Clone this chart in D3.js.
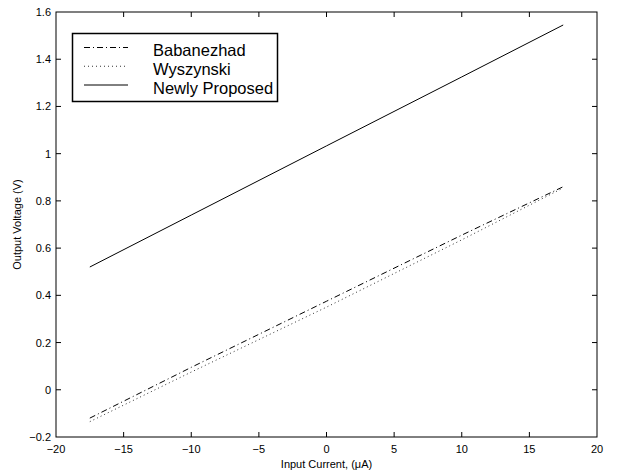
<!DOCTYPE html>
<html><head><meta charset="utf-8">
<script src="https://cdn.jsdelivr.net/npm/d3@7"></script>
<style>body{margin:0;background:#fff}svg{display:block}text{font-family:"Liberation Sans",Arial,sans-serif;fill:#000}</style>
</head><body><svg id="c" width="620" height="474"></svg>
<script>
const xTicks = [-20,-15,-10,-5,0,5,10,15,20];
const yTicks = [-0.2,0,0.2,0.4,0.6,0.8,1,1.2,1.4,1.6];
const current = [-17.5,-10,0,10,17.5];
const babanezhad = [-0.12,0.095,0.375,0.655,0.86];
const wyszynski = [-0.135,0.075,0.35,0.635,0.855];
const proposed = [0.52,0.74,1.033,1.325,1.545];
const seriesNames = ["Babanezhad","Wyszynski","Newly Proposed"];
const dashes = ["6,3,1,3","1,3",null];
const colors = ["#000","#333","#000"];

const svg = d3.select("#c");
const L=56,R=597,T=12,B=437;
const x = d3.scaleLinear().domain([-20,20]).range([L,R]);
const y = d3.scaleLinear().domain([-0.2,1.6]).range([B,T]);
const fmt = d => d===0?"0":String(d).replace("-","\u2212");

// ticks inside on all sides
const g = svg.append("g");
xTicks.forEach(t=>{
  if(t===-20||t===20) return;
  g.append("line").attr("x1",x(t)).attr("x2",x(t)).attr("y1",B).attr("y2",B-5).attr("stroke","#000");
  g.append("line").attr("x1",x(t)).attr("x2",x(t)).attr("y1",T).attr("y2",T+5).attr("stroke","#000");
});
yTicks.forEach(t=>{
  if(t===-0.2||t===1.6) return;
  g.append("line").attr("x1",L).attr("x2",L+5).attr("y1",y(t)).attr("y2",y(t)).attr("stroke","#000");
  g.append("line").attr("x1",R).attr("x2",R-5).attr("y1",y(t)).attr("y2",y(t)).attr("stroke","#000");
});
xTicks.forEach(t=>{
  g.append("text").attr("x",x(t)).attr("y",B+16).attr("text-anchor","middle").attr("font-size",11).text(fmt(t));
});
yTicks.forEach(t=>{
  g.append("text").attr("x",L-5).attr("y",y(t)+4).attr("text-anchor","end").attr("font-size",11).text(fmt(t));
});
svg.append("rect").attr("x",L).attr("y",T).attr("width",R-L).attr("height",B-T).attr("fill","none").attr("stroke","#000").attr("stroke-width",1);

svg.append("text").attr("x",(L+R)/2).attr("y",468).attr("text-anchor","middle").attr("font-size",11).text("Input Current, (\u03bcA)");
svg.append("text").attr("transform",`translate(21,${(T+B)/2}) rotate(-90)`).attr("text-anchor","middle").attr("font-size",11).text("Output Voltage (V)");

const line = d3.line().x((d,i)=>x(current[i])).y(d=>y(d));
[babanezhad,wyszynski,proposed].forEach((s,i)=>{
  svg.append("path").attr("d",line(s)).attr("fill","none").attr("stroke",colors[i]).attr("stroke-width",1)
    .attr("stroke-dasharray",dashes[i]);
});

// legend
const lg = svg.append("g");
lg.append("rect").attr("x",72.5).attr("y",33.5).attr("width",205).attr("height",68).attr("fill","#fff").attr("stroke","#000").attr("stroke-width",1.5);
seriesNames.forEach((n,i)=>{
  const base = 56+i*18.75;
  lg.append("line").attr("x1",84).attr("x2",128).attr("y1",base-8.5).attr("y2",base-8.5).attr("stroke",colors[i]).attr("stroke-dasharray",dashes[i]);
  lg.append("text").attr("x",153).attr("y",base).attr("font-size",16.5).text(n);
});
</script></body></html>
